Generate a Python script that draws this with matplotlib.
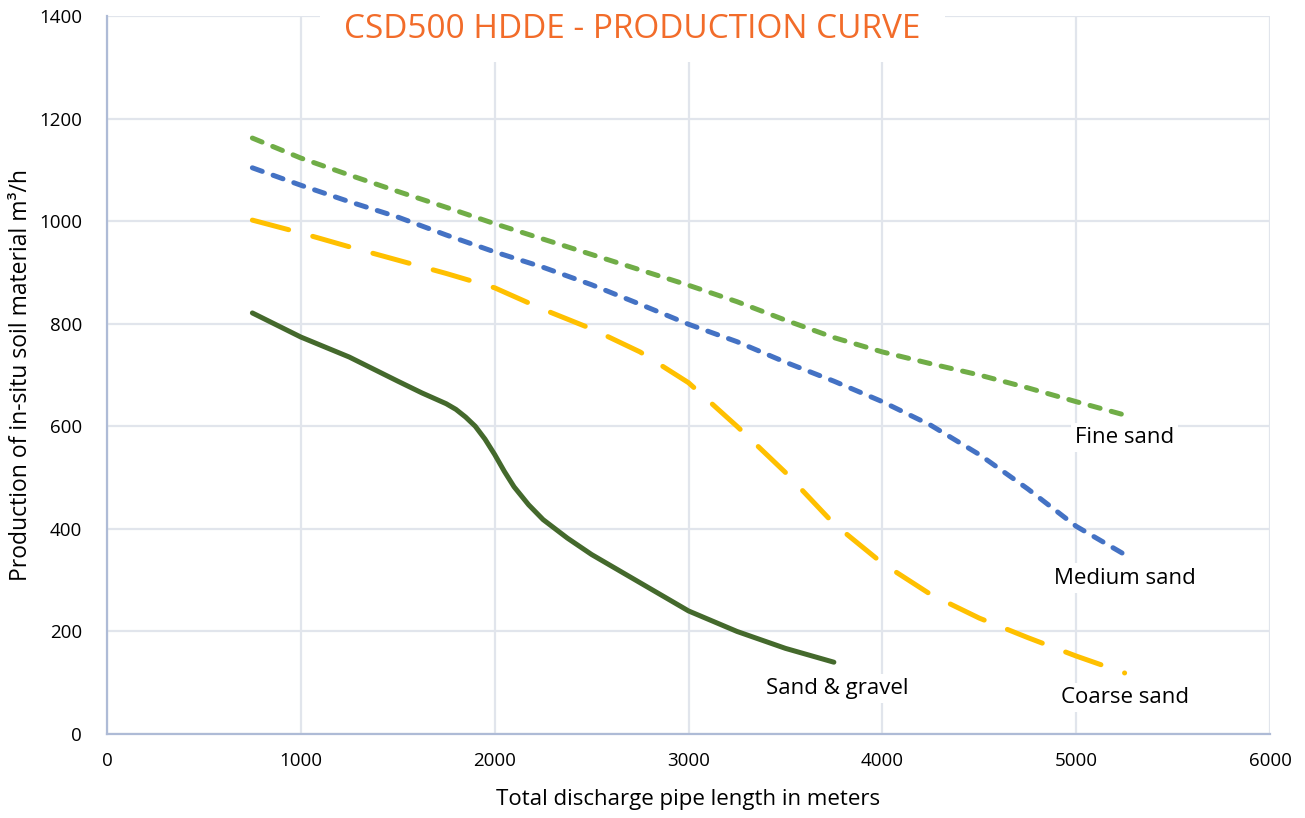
import matplotlib
matplotlib.use("Agg")
import matplotlib.pyplot as plt
from matplotlib.patches import Rectangle

# ---- data ----
fine_x = [750, 1000, 1250, 1500, 1750, 2000, 2250, 2500, 2750, 3000, 3250, 3500, 3750, 4000, 4250, 4500, 4750, 5000, 5250]
fine_y = [1162, 1123, 1090, 1058, 1027, 995, 965, 935, 905, 875, 843, 807, 773, 745, 722, 700, 675, 648, 622]

medium_x = [750, 1000, 1250, 1500, 1750, 2000, 2250, 2500, 2750, 3000, 3250, 3500, 3750, 4000, 4250, 4500, 4750, 5000, 5250]
medium_y = [1104, 1070, 1038, 1008, 973, 940, 910, 876, 838, 799, 765, 725, 688, 648, 602, 545, 478, 405, 350]

coarse_x = [750, 1000, 1250, 1500, 1750, 2000, 2250, 2500, 2750, 3000, 3250, 3500, 3750, 4000, 4250, 4500, 4750, 5000, 5250]
coarse_y = [1002, 977, 950, 924, 898, 870, 828, 790, 745, 685, 600, 510, 410, 333, 272, 226, 188, 152, 119]

gravel_x = [750, 1000, 1250, 1500, 1625, 1750, 1800, 1850, 1900, 1950, 2000, 2050, 2100, 2175, 2250, 2375, 2500, 2750, 3000, 3250, 3500, 3750]
gravel_y = [821, 774, 735, 688, 665, 644, 633, 618, 600, 575, 545, 512, 482, 447, 418, 382, 350, 295, 240, 200, 167, 140]

labels = ["Fine sand", "Medium sand", "Coarse sand", "Sand & gravel"]
x_ticks = [0, 1000, 2000, 3000, 4000, 5000, 6000]
y_ticks = [0, 200, 400, 600, 800, 1000, 1200, 1400]

title = "CSD500 HDDE - PRODUCTION CURVE"
xlabel = "Total discharge pipe length in meters"
ylabel = "Production of in-situ soil material m³/h"

plt.rcParams['font.family'] = ['Open Sans', 'DejaVu Sans']

W, H = 1305, 818
fig = plt.figure(figsize=(W / 100, H / 100), dpi=100)
ax = fig.add_axes([107/W, 84/H, 1163/W, 718/H])
ax.set_xlim(0, 6000)
ax.set_ylim(0, 1400)
ax.set_xticks(x_ticks)
ax.set_yticks(y_ticks)
ax.grid(True, color='#E1E5EC', linewidth=1.6)
ax.set_axisbelow(True)
for s in ['top', 'right']:
    ax.spines[s].set_visible(False)
for s in ['left', 'bottom']:
    ax.spines[s].set_color('#AEBBD6')
    ax.spines[s].set_linewidth(1.6)
ax.tick_params(length=0, labelsize=13.5, colors='black')
ax.tick_params(axis='x', pad=13)
ax.tick_params(axis='y', pad=18)

lw = 3.6
l1, = ax.plot(fine_x, fine_y, color='#70AD47', lw=lw, dash_capstyle='round', solid_joinstyle='round')
l1.set_dashes([2.1, 2.3])
l2, = ax.plot(medium_x, medium_y, color='#4472C4', lw=lw, dash_capstyle='round')
l2.set_dashes([2.1, 2.3])
l3, = ax.plot(coarse_x, coarse_y, color='#FFC000', lw=lw, dash_capstyle='round')
l3.set_dashes([7.5, 5.0])
ax.plot(gravel_x, gravel_y, color='#44692C', lw=lw, solid_capstyle='round', solid_joinstyle='round')

bbox = dict(facecolor='white', edgecolor='none', pad=3)
ax.text(fine_x[-1], 578, labels[0], ha='center', va='center', fontsize=16, bbox=bbox)
ax.text(medium_x[-1], 304, labels[1], ha='center', va='center', fontsize=16, bbox=bbox)
ax.text(coarse_x[-1], 71, labels[2], ha='center', va='center', fontsize=16, bbox=bbox)
ax.text(gravel_x[-1] + 15, 89, labels[3], ha='center', va='center', fontsize=16, bbox=bbox)

# white title area covering the top of the grid
fig.patches.append(Rectangle((320/W, 1 - 62/H), 625/W, 62/H, transform=fig.transFigure,
                             facecolor='white', edgecolor='none', zorder=1))
fig.text(632/W, 1 - 29/H, title, ha='center', va='center', fontsize=24, color='#F26C2A', zorder=3)
ax.set_xlabel(xlabel, fontsize=16, labelpad=14)
ax.set_ylabel(ylabel, fontsize=16.5, labelpad=4)

fig.savefig('out.png', dpi=100)
